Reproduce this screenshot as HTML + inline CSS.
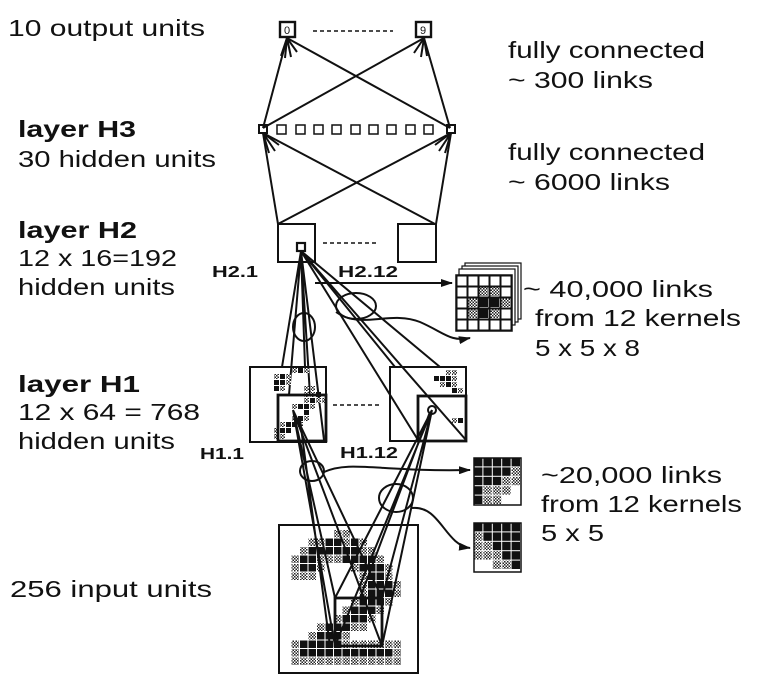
<!DOCTYPE html>
<html><head><meta charset="utf-8"><style>
html,body{margin:0;padding:0;background:#fff;}
svg{display:block;}
text{font-family:"Liberation Sans",sans-serif;font-size:23px;fill:#111;}
.b{font-weight:bold;}
.s{font-weight:bold;font-size:16px;}
.d{font-size:11px;}
</style></head><body>
<svg id="s" width="767" height="683" viewBox="0 0 767 683" xmlns="http://www.w3.org/2000/svg">
<defs>
<pattern id="g" width="3" height="3" patternUnits="userSpaceOnUse">
<rect width="3" height="3" fill="#fff"/><rect width="1.5" height="1.5" fill="#222"/><rect x="1.5" y="1.5" width="1.5" height="1.5" fill="#222"/>
</pattern>
<marker id="a" markerWidth="12" markerHeight="8" refX="11" refY="4" orient="auto" markerUnits="userSpaceOnUse">
<path d="M0,0 L12,4 L0,8 z" fill="#111"/></marker>
</defs>
<g lengthAdjust="spacingAndGlyphs">
<text x="8" y="36" textLength="197" lengthAdjust="spacingAndGlyphs">10 output units</text>
<text class="b" x="18" y="137" textLength="118" lengthAdjust="spacingAndGlyphs">layer H3</text>
<text x="18" y="167" textLength="198" lengthAdjust="spacingAndGlyphs">30 hidden units</text>
<text class="b" x="18" y="238" textLength="119" lengthAdjust="spacingAndGlyphs">layer H2</text>
<text x="18" y="266" textLength="159" lengthAdjust="spacingAndGlyphs">12 x 16=192</text>
<text x="18" y="295" textLength="157" lengthAdjust="spacingAndGlyphs">hidden units</text>
<text class="b" x="18" y="392" textLength="122" lengthAdjust="spacingAndGlyphs">layer H1</text>
<text x="18" y="420" textLength="182" lengthAdjust="spacingAndGlyphs">12 x 64 = 768</text>
<text x="18" y="449" textLength="157" lengthAdjust="spacingAndGlyphs">hidden units</text>
<text x="10" y="597" textLength="202" lengthAdjust="spacingAndGlyphs">256 input units</text>
<text x="508" y="58" textLength="197" lengthAdjust="spacingAndGlyphs">fully connected</text>
<text x="508" y="88" textLength="145" lengthAdjust="spacingAndGlyphs">~ 300 links</text>
<text x="508" y="160" textLength="197" lengthAdjust="spacingAndGlyphs">fully connected</text>
<text x="508" y="190" textLength="162" lengthAdjust="spacingAndGlyphs">~ 6000 links</text>
<text x="523" y="297" textLength="190" lengthAdjust="spacingAndGlyphs">~ 40,000 links</text>
<text x="535" y="326" textLength="206" lengthAdjust="spacingAndGlyphs">from 12 kernels</text>
<text x="535" y="356" textLength="105" lengthAdjust="spacingAndGlyphs">5 x 5 x 8</text>
<text x="541" y="483" textLength="181" lengthAdjust="spacingAndGlyphs">~20,000 links</text>
<text x="541" y="512" textLength="201" lengthAdjust="spacingAndGlyphs">from 12 kernels</text>
<text x="541" y="541" textLength="63" lengthAdjust="spacingAndGlyphs">5 x 5</text>
<text class="s" x="212" y="277" textLength="46" lengthAdjust="spacingAndGlyphs">H2.1</text>
<text class="s" x="338" y="277" textLength="60" lengthAdjust="spacingAndGlyphs">H2.12</text>
<text class="s" x="200" y="459" textLength="44" lengthAdjust="spacingAndGlyphs">H1.1</text>
<text class="s" x="340" y="458" textLength="58" lengthAdjust="spacingAndGlyphs">H1.12</text>
</g>
<text class="d" x="284" y="34">0</text>
<text class="d" x="420" y="34">9</text>
<g stroke="#111" fill="none" stroke-width="2">
<rect x="280" y="22" width="15" height="15" stroke-width="2.4"/>
<rect x="416" y="22" width="15" height="15" stroke-width="2.4"/>
<line x1="313" y1="31" x2="393" y2="31" stroke-dasharray="4,3" stroke-width="1.6"/>
<line x1="287" y1="38" x2="263" y2="128"/><line x1="287" y1="38" x2="450" y2="128"/>
<line x1="424" y1="38" x2="263" y2="128"/><line x1="424" y1="38" x2="450" y2="128"/>
<path d="M287,38 l-6,18 M287,38 l-2,20 M287,38 l4,19 M287,38 l10,14 M424,38 l-10,15 M424,38 l-3,19 M424,38 l3,18"/>
<rect x="259" y="125" width="8" height="8"/><rect x="447" y="125" width="8" height="8"/>
<g stroke-width="1.5">
<rect x="277" y="125" width="9" height="9"/><rect x="296" y="125" width="9" height="9"/><rect x="314" y="125" width="9" height="9"/><rect x="332" y="125" width="9" height="9"/><rect x="351" y="125" width="9" height="9"/><rect x="369" y="125" width="9" height="9"/><rect x="387" y="125" width="9" height="9"/><rect x="406" y="125" width="9" height="9"/><rect x="424" y="125" width="9" height="9"/>
</g>
<line x1="263" y1="133" x2="278" y2="224"/><line x1="263" y1="133" x2="435" y2="224"/>
<line x1="451" y1="133" x2="278" y2="224"/><line x1="451" y1="133" x2="436" y2="224"/>
<path d="M263,133 l6,20 M263,133 l12,18 M263,133 l16,12 M451,133 l-16,12 M451,133 l-12,18 M451,133 l-6,20"/>
<rect x="278" y="224" width="37" height="38"/><rect x="398" y="224" width="38" height="38"/>
<rect x="297" y="243" width="8" height="8" stroke-width="2.2"/>
<line x1="323" y1="243" x2="378" y2="243" stroke-dasharray="4,3" stroke-width="1.6"/>
<path d="M301,251 L282,367 M301,251 L289,395 M301,251 L305,367 M301,251 L310,395 M301,251 L324,440 M301,251 L440,367 M301,251 L466,440 M301,251 L418,440 M301,251 L395,367"/>
<ellipse cx="304" cy="327" rx="11" ry="14"/>
<ellipse cx="356" cy="306" rx="20" ry="13"/>
<line x1="315" y1="283" x2="452" y2="283" marker-end="url(#a)"/>
<path d="M336,312 C360,330 390,310 420,322 C445,333 450,342 470,338" marker-end="url(#a)"/>
<rect x="250" y="367" width="76" height="75"/>
<rect x="390" y="367" width="76" height="74"/>
<line x1="333" y1="405" x2="382" y2="405" stroke-dasharray="4,3" stroke-width="1.6"/>
<rect x="279" y="525" width="139" height="148"/>
</g>
<g id="cells"></g>
<g stroke="#111" fill="none" stroke-width="2">
<rect x="278" y="395" width="48" height="46" stroke-width="2.8"/>
<rect x="418" y="396" width="48" height="45" stroke-width="2.8"/>
<circle cx="432" cy="410" r="4"/>
<rect x="335" y="598" width="47" height="48" stroke-width="2.8"/>
<path d="M293,410 L335,646 M293,410 L335,598 M293,410 L382,646 M293,410 L382,598 M300,420 L330,646 M432,410 L335,646 M432,410 L335,598 M432,410 L382,598 M432,410 L382,646 M430,412 L360,598"/>
<ellipse cx="312" cy="471" rx="12" ry="10"/>
<ellipse cx="396" cy="498" rx="17" ry="14"/>
<path d="M324,472 C350,460 380,472 470,470" marker-end="url(#a)"/>
<path d="M412,508 C440,505 445,545 470,548" marker-end="url(#a)"/>
</g>
<g id="k"></g>
</svg>
<script>
var NS="http://www.w3.org/2000/svg",c=document.getElementById("cells"),k=document.getElementById("k");
function R(p,x,y,w,h,f,s){var r=document.createElementNS(NS,"rect");r.setAttribute("x",x);r.setAttribute("y",y);r.setAttribute("width",w);r.setAttribute("height",h);r.setAttribute("fill",f);if(s){r.setAttribute("stroke","#111");r.setAttribute("stroke-width",s);}p.appendChild(r);}
function grid(p,rows,x0,y0,cs){rows.forEach(function(r,i){for(var j=0;j<r.length;j++){var ch=r[j];if(ch=="B")R(p,x0+j*cs,y0+i*cs,cs-1,cs-1,"#111");else if(ch=="g")R(p,x0+j*cs,y0+i*cs,cs-1,cs-1,"url(#g)");}});}
grid(c,["......gg........","...ggBBgBg......","..gBBBBBBgg.....",".gBBgggBBBBg....",".gBBg...gBBBg...",".ggg.....gBBg...",".........gBBBg..",".........gBBBg..","........gBBBg...",".......gBBBg....","......gBBBg.....","....gBBBgg......","...gBBBg........",".gBBBBBggggggg..",".gBBBBBBBBBBBg..",".ggggggggggggg.."],283,530,8.5);
grid(c,["......gBg...","...gBg......","...BBg......","...Bg...gg..","........ggB.","........gBgg","......gBBg..","........B...","......gBg...","....gBBg....","...gBB......","...gg......."],256,368,6);
grid(c,[".........gg.",".......BBBg.","........gBg.","..........Bg","............","............","............","............","..........gB","............"],392,370,6);
for(var d=3;d>=1;d--){R(k,456+d*3,272-d*3,56,56,"#fff",1.2);}
R(k,456,275,56,56,"#fff",1.5);
grid(k,[".....","..gg.",".gBBg",".gBg.","....."],456,275,11);
for(var i=0;i<5;i++)for(var j=0;j<5;j++){R(k,457+j*11,276+i*11,10,10,"none",1);}
grid(k,["BBBBB","BBBBg","BBBgg","Bggg.","Bgg.."],474,458,9.4);
grid(k,["BBBBB","gBBBB","ggBBB","gggBB","..ggB"],474,523,9.4);
R(k,474,458,47,47,"none",1.5);R(k,474,523,47,49,"none",1.5);
</script>
</body></html>
